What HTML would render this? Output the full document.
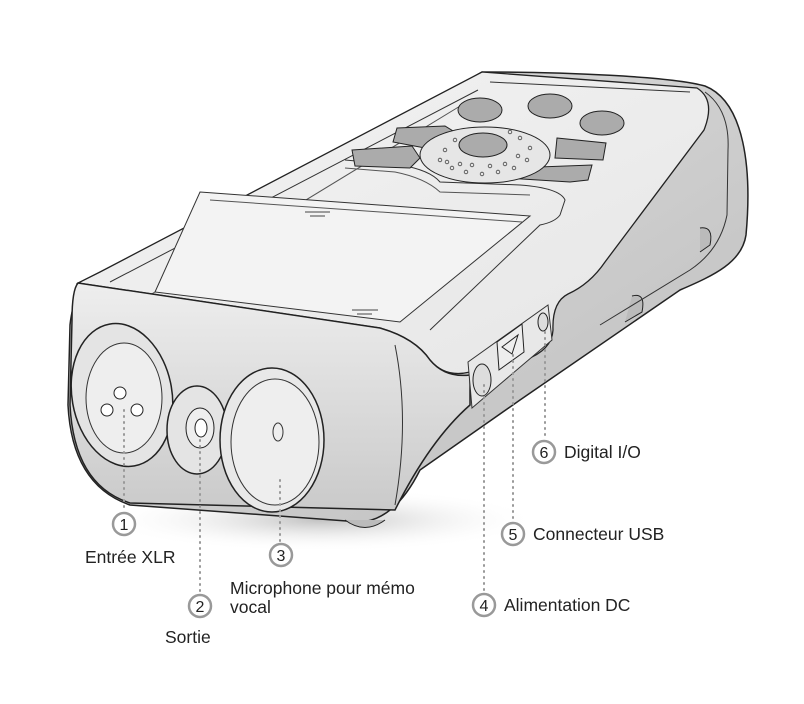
<!DOCTYPE html>
<html><head><meta charset="utf-8"><style>
html,body{margin:0;padding:0;background:#fff;}
svg{display:block;}
text{font-family:"Liberation Sans",sans-serif;fill:#222;}
</style></head><body>
<svg width="804" height="704" viewBox="0 0 804 704" xmlns="http://www.w3.org/2000/svg">
<defs>
<linearGradient id="side" x1="0" y1="0" x2="1" y2="1">
<stop offset="0" stop-color="#e2e2e2"/><stop offset="1" stop-color="#bcbcbc"/>
</linearGradient>
<linearGradient id="top" x1="0" y1="0" x2="1" y2="1">
<stop offset="0" stop-color="#f3f3f3"/><stop offset="1" stop-color="#e6e6e6"/>
</linearGradient>
<linearGradient id="front" x1="0" y1="0" x2="0" y2="1">
<stop offset="0" stop-color="#eeeeee"/><stop offset="1" stop-color="#cacaca"/>
</linearGradient>
<radialGradient id="sh" cx="0.5" cy="0.5" r="0.5"><stop offset="0" stop-color="#999" stop-opacity="0.6"/><stop offset="1" stop-color="#fff" stop-opacity="0"/></radialGradient>
</defs>
<ellipse cx="320" cy="520" rx="220" ry="32" fill="url(#sh)"/>
<path d="M482 72 C560 72 670 76 705 86 C745 102 752 170 746 235 C742 262 715 275 680 290 L520 400 L420 470 Q395 520 360 522 L130 505 Q72 485 68 405 L70 325 Q74 288 92 286 L300 178 Z" fill="url(#side)" stroke="#222" stroke-width="1.5"/>
<path d="M700 228 Q714 226 710 245 L700 252" fill="#bbb" stroke="#222"/>
<path d="M632 296 Q646 292 642 312 L625 322" fill="#bbb" stroke="#222"/>
<path d="M345 520 Q365 535 385 520" fill="#bbb" stroke="#222"/>
<path d="M482 72 L697 88 Q716 100 704 130 L605 262 Q590 284 568 294 Q552 302 553 330 Q552 350 525 360 L470 372 Q445 378 430 360 Q415 338 380 328 L78 283 L100 272 Z" fill="url(#top)" stroke="#222" stroke-width="1.3"/>
<path d="M705 92 Q730 110 728 150 L727 215 Q720 250 690 270 L600 325" fill="none" stroke="#333"/>
<path d="M490 82 L690 92" fill="none" stroke="#333"/>
<path d="M478 90 L110 282" fill="none" stroke="#333"/>
<path d="M470 100 L150 295" fill="none" stroke="#555"/>
<path d="M345 160 L400 165 Q430 170 440 182 L520 185 Q560 188 565 200 L560 215 Q555 222 540 225 L430 330" fill="none" stroke="#333"/>
<path d="M345 168 L395 172 Q425 178 440 192 L530 195" fill="none" stroke="#555"/>
<path d="M200 192 L530 216 L400 322 L155 292 Z" fill="#f3f3f3" stroke="#333"/>
<path d="M210 200 L522 222" stroke="#555" fill="none"/>
<line x1="305" y1="212" x2="330" y2="212" stroke="#444"/><line x1="310" y1="216" x2="325" y2="216" stroke="#444"/>
<line x1="352" y1="310" x2="378" y2="310" stroke="#444"/><line x1="357" y1="314" x2="372" y2="314" stroke="#444"/>
<g fill="#ababab" stroke="#222">
<ellipse cx="480" cy="110" rx="22" ry="12"/><ellipse cx="550" cy="106" rx="22" ry="12"/><ellipse cx="602" cy="123" rx="22" ry="12"/>
<path d="M397 128 L445 126 L458 134 L425 148 L393 142 Z"/>
<path d="M352 150 L412 146 L420 158 L410 168 L355 166 Z"/>
<path d="M557 138 L606 143 L603 160 L555 158 Z"/>
<path d="M512 168 L592 165 L588 180 L570 182 L505 178 Z"/>
</g>
<ellipse cx="485" cy="155" rx="65" ry="28" fill="#e6e6e6" stroke="#222"/>
<g fill="none" stroke="#444" stroke-width="0.8">
<circle cx="440" cy="160" r="1.8"/><circle cx="452" cy="168" r="1.8"/><circle cx="466" cy="172" r="1.8"/><circle cx="482" cy="174" r="1.8"/><circle cx="498" cy="172" r="1.8"/><circle cx="514" cy="168" r="1.8"/><circle cx="527" cy="160" r="1.8"/><circle cx="530" cy="148" r="1.8"/><circle cx="520" cy="138" r="1.8"/><circle cx="445" cy="150" r="1.8"/><circle cx="455" cy="140" r="1.8"/><circle cx="510" cy="132" r="1.8"/><circle cx="447" cy="162" r="1.8"/><circle cx="460" cy="164" r="1.8"/><circle cx="505" cy="164" r="1.8"/><circle cx="518" cy="156" r="1.8"/><circle cx="472" cy="165" r="1.8"/><circle cx="490" cy="166" r="1.8"/>
</g>
<ellipse cx="483" cy="145" rx="24" ry="12" fill="#ababab" stroke="#222"/>
<path d="M78 283 L380 328 Q415 338 430 360 Q445 378 470 375 L470 405 Q430 440 395 510 L130 503 Q74 485 70 405 L72 320 Q72 290 78 283 Z" fill="url(#front)" stroke="#222" stroke-width="1.5"/>
<path d="M395 345 Q410 420 395 505" fill="none" stroke="#333"/>
<path d="M468 362 L548 305 L552 340 L472 408 Z" fill="#e8e8e8" stroke="#333"/>
<ellipse cx="482" cy="380" rx="9" ry="16" fill="#ddd" stroke="#222"/>
<path d="M497 342 L522 324 L524 352 L499 370 Z" fill="#eee" stroke="#222"/>
<path d="M502 347 L518 335 L512 354 Z" fill="none" stroke="#222"/>
<ellipse cx="543" cy="322" rx="5" ry="9" fill="#ddd" stroke="#222"/>
<ellipse cx="122" cy="395" rx="50" ry="72" fill="#e4e4e4" stroke="#222" stroke-width="1.5" transform="rotate(-10 122 395)"/>
<ellipse cx="124" cy="398" rx="38" ry="55" fill="#eee" stroke="#333"/>
<circle cx="120" cy="393" r="6" fill="#fff" stroke="#222"/><circle cx="107" cy="410" r="6" fill="#fff" stroke="#222"/><circle cx="137" cy="410" r="6" fill="#fff" stroke="#222"/>
<ellipse cx="197" cy="430" rx="30" ry="44" fill="#e4e4e4" stroke="#222" stroke-width="1.5"/>
<ellipse cx="200" cy="428" rx="14" ry="20" fill="#eee" stroke="#222"/><ellipse cx="201" cy="428" rx="6" ry="9" fill="#fff" stroke="#222"/>
<ellipse cx="272" cy="440" rx="52" ry="72" fill="#e8e8e8" stroke="#222" stroke-width="1.5"/>
<ellipse cx="275" cy="442" rx="44" ry="63" fill="#eee" stroke="#333"/>
<ellipse cx="278" cy="432" rx="5" ry="9" fill="none" stroke="#333"/>
<g stroke="#999" stroke-width="2" stroke-dasharray="1 5" stroke-linecap="round">
<line x1="124" y1="410" x2="124" y2="512"/><line x1="200" y1="440" x2="200" y2="592"/><line x1="280" y1="480" x2="280" y2="542"/>
<line x1="484" y1="385" x2="484" y2="592"/><line x1="513" y1="355" x2="513" y2="520"/><line x1="545" y1="332" x2="545" y2="440"/>
</g>
<g fill="#fff" stroke="#999" stroke-width="2.5">
<circle cx="124" cy="524" r="11"/><circle cx="200" cy="606" r="11"/><circle cx="281" cy="555" r="11"/>
<circle cx="484" cy="605" r="11"/><circle cx="513" cy="534" r="11"/><circle cx="544" cy="452" r="11"/>
</g>
<g font-size="16" text-anchor="middle">
<text x="124" y="530">1</text><text x="200" y="612">2</text><text x="281" y="561">3</text>
<text x="484" y="611">4</text><text x="513" y="540">5</text><text x="544" y="458">6</text>
</g>
<g font-size="17.5">
<text x="85" y="563">Entrée XLR</text>
<text x="165" y="643">Sortie</text>
<text x="230" y="594">Microphone pour mémo</text>
<text x="230" y="613">vocal</text>
<text x="504" y="611">Alimentation DC</text>
<text x="533" y="540">Connecteur USB</text>
<text x="564" y="458">Digital I/O</text>
</g>
</svg>
</body></html>
